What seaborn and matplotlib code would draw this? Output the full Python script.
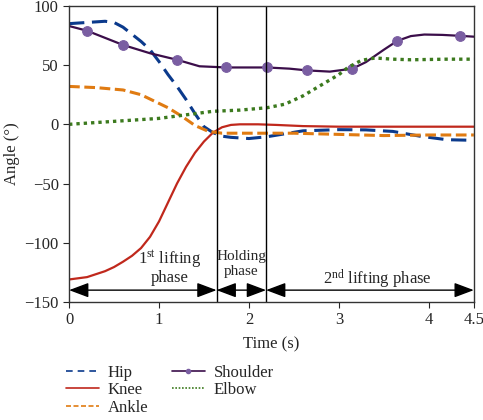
import numpy as np
import pandas as pd
import matplotlib
matplotlib.use("Agg")
import matplotlib.pyplot as plt
from matplotlib.lines import Line2D
import seaborn as sns

# joint angles over the lifting task
hip_t = [0, 0.2, 0.4, 0.5, 0.6, 0.7, 0.8, 0.9, 1.0, 1.1, 1.2, 1.3, 1.4, 1.5, 1.6, 1.7, 1.8, 2.0, 2.2, 2.4, 2.6, 3.0, 3.3, 3.6, 3.9, 4.2, 4.5]
hip_v = [85, 86, 87, 86, 82, 76, 70, 63, 53, 42, 32, 21, 9, -2, -7, -10, -11, -12, -10.5, -8, -5.5, -4.5, -4.7, -6, -10, -13, -13.5]

knee_t = [0, 0.2, 0.4, 0.5, 0.6, 0.7, 0.8, 0.9, 1.0, 1.1, 1.2, 1.3, 1.4, 1.5, 1.6, 1.7, 1.8, 1.9, 2.1, 2.3, 2.6, 3.0, 3.5, 4.0, 4.5]
knee_v = [-131, -129, -124, -120.5, -116, -111, -104.5, -95, -82, -66, -50, -36, -24, -14.5, -7, -2.5, -0.5, 0, 0, -0.5, -1.5, -2, -2, -2, -2]

ankle_t = [0, 0.3, 0.6, 0.8, 0.95, 1.1, 1.25, 1.4, 1.55, 1.7, 2.0, 2.5, 3.0, 3.5, 4.0, 4.5]
ankle_v = [32, 31, 29, 25, 19.5, 14, 7, -1, -6, -7.5, -7.5, -7.5, -8.5, -9.5, -9, -9]

shoulder_t = [0, 0.2, 0.4, 0.6, 0.9, 1.2, 1.45, 1.75, 2.2, 2.45, 2.65, 2.9, 3.15, 3.3, 3.5, 3.65, 3.8, 3.95, 4.15, 4.35, 4.5]
shoulder_v = [83, 79, 73, 67, 60, 54.5, 49, 48, 48, 47, 45.5, 44.5, 47, 52.5, 63, 70.5, 74.5, 75.8, 75.5, 74.7, 74]
shoulder_marks = [1, 3, 5, 7, 8, 10, 12, 15, 19]

elbow_t = [0, 0.5, 1.0, 1.3, 1.6, 1.9, 2.2, 2.4, 2.6, 2.8, 3.0, 3.1, 3.25, 3.4, 3.6, 3.8, 4.2, 4.5]
elbow_v = [0, 2.5, 5, 8, 11, 12, 14, 17, 24, 33, 42, 48, 54, 56, 55, 54.5, 55, 55]

# phase boundaries (s)
phase_edges = [0, 1.64, 2.19, 4.5]

sns.set_style("ticks")
plt.rcParams['font.family'] = ['Liberation Serif', 'DejaVu Serif']
plt.rcParams['mathtext.fontset'] = 'custom'
plt.rcParams['mathtext.rm'] = 'Liberation Serif'
plt.rcParams['mathtext.it'] = 'Liberation Serif'
plt.rcParams['font.size'] = 12

colors = {"Hip": "#0b3a8c", "Knee": "#c0281c", "Ankle": "#e07b12",
          "Shoulder": "#3b0e4a", "Elbow": "#3c7a1e"}
mark_color = "#7a5ea2"

fig = plt.figure(figsize=(4.83, 4.2), dpi=100)
ax = fig.add_axes([0.143, 0.281, 0.838, 0.705])

sns.lineplot(x=hip_t, y=hip_v, ax=ax, color=colors["Hip"], lw=2.2)
ax.lines[-1].set_dashes((5, 2.5))
sns.lineplot(x=knee_t, y=knee_v, ax=ax, color=colors["Knee"], lw=1.6)
sns.lineplot(x=ankle_t, y=ankle_v, ax=ax, color=colors["Ankle"], lw=2.2)
ax.lines[-1].set_dashes((3.5, 1.5))
sns.lineplot(x=shoulder_t, y=shoulder_v, ax=ax, color=colors["Shoulder"], lw=1.6,
             marker="o", markersize=7, markerfacecolor=mark_color,
             markeredgecolor=mark_color, markevery=shoulder_marks)
sns.lineplot(x=elbow_t, y=elbow_v, ax=ax, color=colors["Elbow"], lw=2.4)
ax.lines[-1].set_dashes((1, 1.2))

for x in phase_edges[1:3]:
    ax.axvline(x, color="black", lw=1)

for a, b in zip(phase_edges[:-1], phase_edges[1:]):
    ax.annotate("", xy=(a, -140), xytext=(b, -140),
                arrowprops=dict(arrowstyle="<|-|>,head_length=0.8,head_width=0.3",
                                color="black", lw=1, shrinkA=0, shrinkB=0,
                                mutation_scale=15))

ax.text(1.12, -133.5, "1$^{\\mathrm{st}}$ lifting\nphase", ha="center", va="baseline",
        linespacing=1.0, fontsize=12)
ax.text(1.915, -127.5, "Holding\nphase", ha="center", va="baseline",
        linespacing=1.2, fontsize=11)
ax.text(3.43, -135.5, "2$^{\\mathrm{nd}}$ lifting phase", ha="center", va="baseline", fontsize=12)

ax.set_xlim(0, 4.5)
ax.set_ylim(-150, 100)
ax.set_xticks([0, 1, 2, 3, 4, 4.5])
ax.set_xticklabels(["0", "1", "2", "3", "4", "4.5"])
ax.set_yticks([-150, -100, -50, 0, 50, 100])
ax.set_yticklabels(["\u2212150", "\u2212100", "\u221250", "0", "50", "100"])
ax.set_xlabel("Time (s)", labelpad=6)
ax.set_ylabel("Angle (\u00b0)", labelpad=3)
ax.tick_params(direction="out", length=4, labelsize=12)
for s in ax.spines.values():
    s.set_linewidth(1)
    s.set_color("#333333")

# thin legend handles as in the reference
handles = [
    Line2D([], [], color=colors["Hip"], lw=1.2, dashes=(4, 3)),
    Line2D([], [], color=colors["Knee"], lw=1.2),
    Line2D([], [], color=colors["Ankle"], lw=1.2, dashes=(3, 1.5)),
    Line2D([], [], color=colors["Shoulder"], lw=1.2, marker="o", markersize=3,
           markerfacecolor=mark_color, markeredgecolor=mark_color, markevery=[1]),
    Line2D([], [], color=colors["Elbow"], lw=1.2, dashes=(1, 1)),
]
labels = ["Hip", "Knee", "Ankle", "Shoulder", "Elbow"]
fig.legend(handles, labels, ncol=2, loc="upper left", bbox_to_anchor=(0.13, 0.14),
           frameon=False, handlelength=2.0, handletextpad=0.5, columnspacing=1.4,
           labelspacing=0.1, fontsize=12, borderaxespad=0, borderpad=0.2)

fig.savefig("out.png", dpi=100)
